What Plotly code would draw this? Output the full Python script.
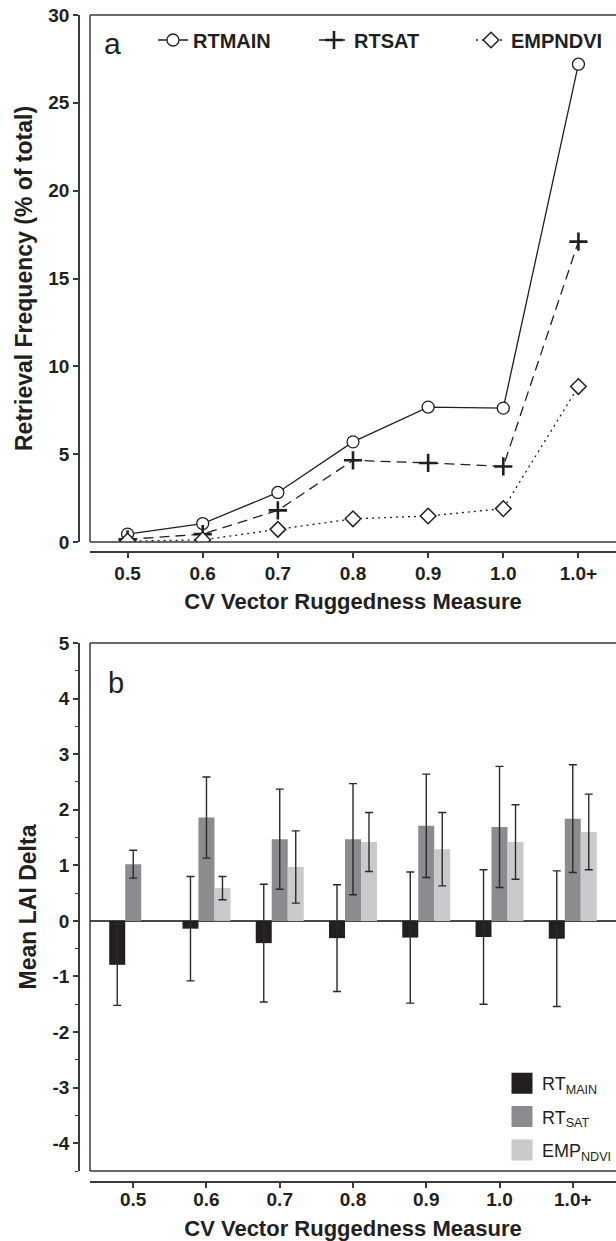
import plotly.graph_objects as go

# ---------------- data ----------------
categories = ["0.5", "0.6", "0.7", "0.8", "0.9", "1.0", "1.0+"]

freq_rtmain = [0.45, 1.05, 2.82, 5.70, 7.68, 7.62, 27.2]
freq_rtsat = [0.15, 0.45, 1.80, 4.65, 4.50, 4.30, 17.1]
freq_empndvi = [0.05, 0.12, 0.72, 1.32, 1.48, 1.90, 8.85]

lai_rtmain = [-0.79, -0.14, -0.40, -0.31, -0.30, -0.29, -0.32]
lai_rtmain_err = [0.73, 0.94, 1.06, 0.96, 1.18, 1.21, 1.22]
lai_rtsat = [1.02, 1.86, 1.47, 1.47, 1.71, 1.69, 1.84]
lai_rtsat_err = [0.25, 0.73, 0.90, 1.00, 0.93, 1.09, 0.97]
lai_empndvi = [None, 0.59, 0.97, 1.42, 1.29, 1.42, 1.60]
lai_empndvi_err = [None, 0.21, 0.65, 0.53, 0.66, 0.67, 0.68]

line_names = ["RTMAIN", "RTSAT", "EMPNDVI"]
bar_names = ["RT<sub>MAIN</sub>", "RT<sub>SAT</sub>", "EMP<sub>NDVI</sub>"]
freq_y_ticks = [0, 5, 10, 15, 20, 25, 30]
lai_y_ticks = [-4, -3, -2, -1, 0, 1, 2, 3, 4, 5]
lai_y_ticktext = ["-4", "-3", "-2", "-1", "0", "1", "2", "3", "4", "5"]

# ---------------- style ----------------
W, H = 616, 1241
FONT = "Liberation Sans, Arial, Helvetica, sans-serif"
INK = "#231f20"
AX = "#3a3a3a"
BAR_COLORS = ["#231f20", "#8b8c8f", "#c9cacc"]


def px(x):
    return x / W


def py(y):
    return 1 - y / H


fig = go.Figure()

# ---------------- panel a ----------------
fig.add_trace(go.Scatter(
    x=categories, y=freq_rtmain, name=line_names[0], mode="lines+markers",
    line=dict(color=INK, width=1.3),
    marker=dict(symbol="circle", size=12, color="white", line=dict(color=INK, width=1.3)),
    xaxis="x", yaxis="y", legend="legend"))
fig.add_trace(go.Scatter(
    x=categories, y=freq_rtsat, name=line_names[1], mode="lines+markers",
    line=dict(color=INK, width=1.3, dash="10px,6px"),
    marker=dict(symbol="cross-thin", size=13, color=INK, line=dict(color=INK, width=2.6)),
    xaxis="x", yaxis="y", legend="legend2"))
fig.add_trace(go.Scatter(
    x=categories, y=freq_empndvi, name=line_names[2], mode="lines+markers",
    line=dict(color=INK, width=1.3, dash="2px,4px"),
    marker=dict(symbol="diamond", size=12, color="white", line=dict(color=INK, width=1.5)),
    xaxis="x", yaxis="y", legend="legend3"))

# ---------------- panel b ----------------
for name, vals, errs, col in zip(bar_names,
                                 [lai_rtmain, lai_rtsat, lai_empndvi],
                                 [lai_rtmain_err, lai_rtsat_err, lai_empndvi_err],
                                 BAR_COLORS):
    fig.add_trace(go.Bar(
        x=categories, y=vals, name=name, marker=dict(color=col, line=dict(width=0)),
        error_y=dict(type="data", array=errs, visible=True, color="#2a2a2a", thickness=1.4, width=4),
        xaxis="x2", yaxis="y2", showlegend=False))
    # legend swatch entries for the bar series
    fig.add_trace(go.Scatter(
        x=[None], y=[None], name=name, mode="markers",
        marker=dict(symbol="square", size=16, color=col, line=dict(color=col, width=5)),
        xaxis="x2", yaxis="y2", legend="legend4", legendgroup=name))

tick_font = dict(family=FONT, size=19, color=INK, weight="bold")
xtitle_font = dict(family=FONT, size=22, color=INK, weight="bold")
ytitle_font = dict(family=FONT, size=23, color=INK, weight="bold")

common_x = dict(type="category", showline=True, linecolor=AX, linewidth=1.5,
                ticks="outside", ticklen=5, tickwidth=1.5, tickcolor=AX,
                tickfont=tick_font, showgrid=False, zeroline=False, anchor="free",
                fixedrange=True)
common_y = dict(showline=True, linecolor=AX, linewidth=1.5,
                ticks="outside", ticklen=5, tickwidth=1.5, tickcolor=AX,
                tickfont=tick_font, showgrid=False, anchor="free", position=px(79),
                fixedrange=True)

line_legend = dict(orientation="h", y=py(40), xanchor="left", yanchor="middle",
                   font=dict(family=FONT, size=20, color=INK, weight="bold"),
                   bgcolor="rgba(0,0,0,0)", itemwidth=30, itemclick=False)


def box_lines(xd, yd):
    # left, top and bottom edges of the plotting frame (right edge lies outside the picture)
    st = dict(type="line", xref=xd, yref=yd, line=dict(color=AX, width=1.5), layer="above")
    return [dict(st, x0=0, x1=0, y0=0, y1=1),
            dict(st, x0=0, x1=1, y0=1, y1=1),
            dict(st, x0=0, x1=1, y0=0, y1=0)]


fig.update_layout(
    width=W, height=H,
    margin=dict(l=0, r=0, t=0, b=0, autoexpand=False),
    paper_bgcolor="white", plot_bgcolor="white",
    font=dict(family=FONT, color=INK),
    barmode="group", bargap=0.345, bargroupgap=0,
    xaxis=dict(common_x, domain=[px(90), 1], range=[-0.5, 6.5], position=py(552),
               ticklabelstandoff=-1,
               title=dict(text="CV Vector Ruggedness Measure", font=xtitle_font, standoff=10)),
    yaxis=dict(common_y, domain=[py(542), py(15)], range=[0, 30], tickvals=freq_y_ticks,
               zeroline=False,
               title=dict(text="Retrieval Frequency (% of total)", font=ytitle_font, standoff=8)),
    xaxis2=dict(common_x, domain=[px(90), 1], range=[-0.59, 6.59], position=py(1182),
                ticklabelstandoff=-5,
                title=dict(text="CV Vector Ruggedness Measure", font=xtitle_font, standoff=24)),
    yaxis2=dict(common_y, domain=[py(1171), py(643)], range=[-4.5, 5],
                tickvals=lai_y_ticks, ticktext=lai_y_ticktext,
                zeroline=True, zerolinecolor="#4a4a4a", zerolinewidth=1.5,
                minor=dict(dtick=0.5, tick0=0, ticks="outside", ticklen=3, tickwidth=1.3,
                           tickcolor=AX),
                title=dict(text="Mean LAI Delta", font=ytitle_font, standoff=8)),
    legend=dict(line_legend, x=px(153)),
    legend2=dict(line_legend, x=px(314)),
    legend3=dict(line_legend, x=px(471)),
    legend4=dict(orientation="v", x=px(502), y=py(1065), xanchor="left", yanchor="top",
                 font=dict(family=FONT, size=18, color=INK),
                 bgcolor="rgba(0,0,0,0)", itemwidth=30, tracegroupgap=7, itemclick=False),
    shapes=box_lines("x domain", "y domain") + box_lines("x2 domain", "y2 domain"),
    annotations=[
        dict(text="a", xref="paper", yref="paper", x=px(102), y=py(43), xanchor="left",
             yanchor="middle", showarrow=False, font=dict(family=FONT, size=30, color=INK)),
        dict(text="b", xref="paper", yref="paper", x=px(106), y=py(683), xanchor="left",
             yanchor="middle", showarrow=False, font=dict(family=FONT, size=29, color=INK)),
    ],
)

fig.write_html("out.html")
